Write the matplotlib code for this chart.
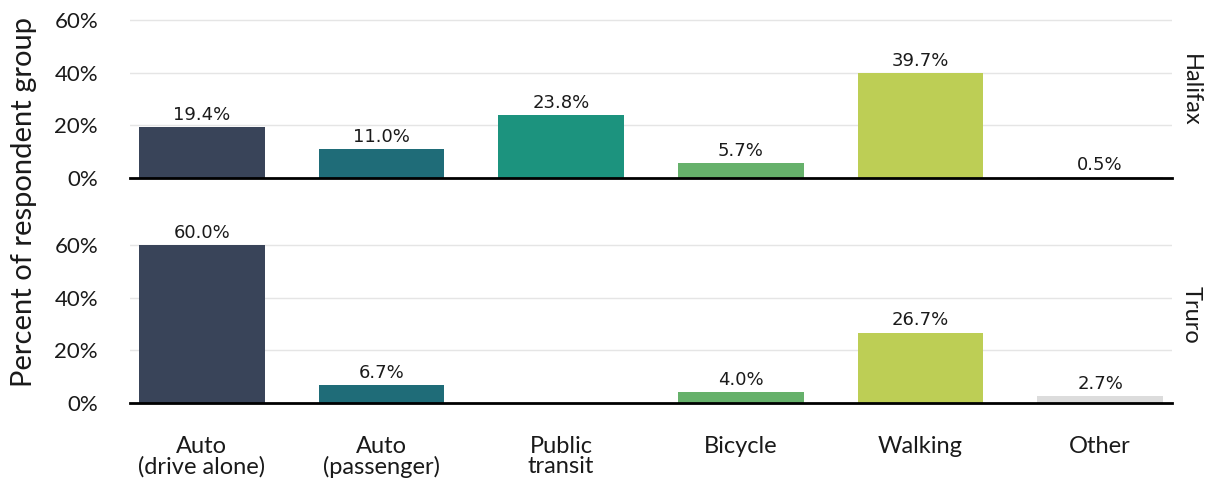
import numpy as np
import matplotlib
matplotlib.use("Agg")
import matplotlib.pyplot as plt

# Data
categories = ["Auto\n(drive alone)", "Auto\n(passenger)", "Public\ntransit",
              "Bicycle", "Walking", "Other"]
halifax = [19.4, 11.0, 23.8, 5.7, 39.7, 0.5]
truro = [60.0, 6.7, 0.0, 4.0, 26.7, 2.7]
groups = ["Halifax", "Truro"]
colors = ["#394459", "#1F6C78", "#1C937E", "#66B16B", "#BDCE55", "#DCDCDC"]
yticks = [0, 20, 40, 60]

plt.rcParams['font.family'] = ['Lato', 'DejaVu Sans']

fig = plt.figure(figsize=(12.06, 4.78), dpi=100)
ax_top = fig.add_axes([0.1078, 0.6276, 0.864, 0.3473])
ax_bot = fig.add_axes([0.1078, 0.1569, 0.864, 0.3473])

x = np.arange(len(categories))
for ax, vals, name in [(ax_top, halifax, groups[0]), (ax_bot, truro, groups[1])]:
    ax.bar(x, vals, width=0.7, color=colors, zorder=2)
    for xi, v in zip(x, vals):
        if v > 0:
            ax.text(xi, v + 1.2, f"{v:.1f}%", ha='center', va='bottom',
                    fontsize=13, family='DejaVu Sans', color='#1a1a1a')
    ax.set_ylim(0, 63)
    ax.set_xlim(-0.4, len(categories) - 0.6)
    ax.set_yticks(yticks)
    ax.set_yticklabels([f"{t}%" for t in yticks], fontsize=16, color='#1a1a1a')
    ax.yaxis.grid(True, color='#E5E5E5', linewidth=1, zorder=0)
    ax.set_axisbelow(True)
    for s in ['top', 'right', 'left']:
        ax.spines[s].set_visible(False)
    ax.spines['bottom'].set_linewidth(2)
    ax.spines['bottom'].set_color('black')
    ax.tick_params(axis='y', length=0, pad=23)
    ax.tick_params(axis='x', length=0)
    ax.text(1.018, 0.53, name, transform=ax.transAxes, rotation=-90,
            ha='center', va='center', fontsize=17, color='#1a1a1a')

ax_top.set_xticks(x)
ax_top.set_xticklabels([])
ax_bot.set_xticks(x)
ax_bot.set_xticklabels(categories, fontsize=17, color='#1a1a1a', linespacing=0.9)
ax_bot.tick_params(axis='x', pad=24)

fig.text(0.02, 0.578, "Percent of respondent group", rotation=90,
         ha='center', va='center', fontsize=21, color='#1a1a1a')

fig.savefig("out.png", dpi=100)
